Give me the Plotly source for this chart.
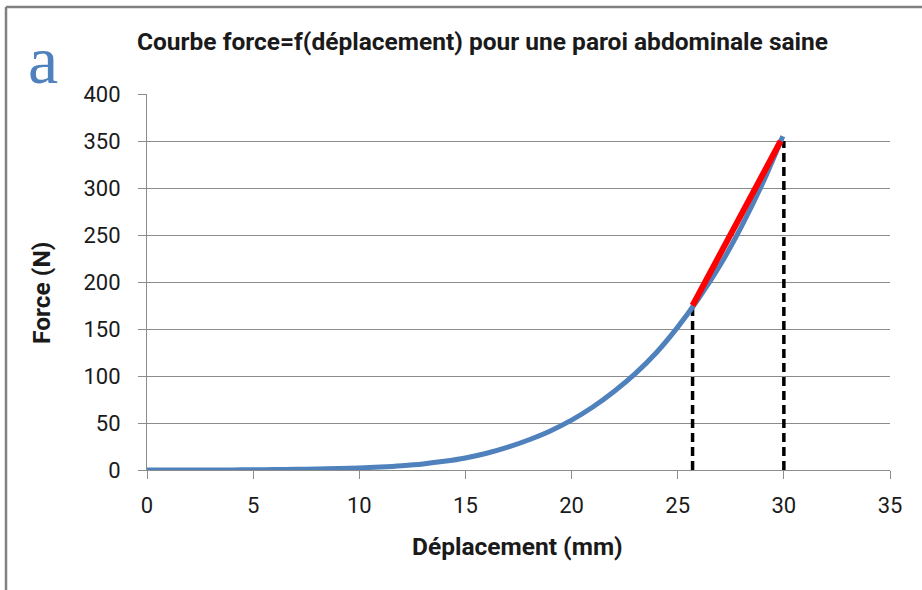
import plotly.graph_objects as go

# Force-displacement curve of a healthy abdominal wall
displacement_mm = [0, 1, 2, 3, 4, 5, 6, 7, 8, 9, 10, 11, 12, 13, 14, 15, 16, 17, 18, 19,
                   20, 21, 22, 23, 24, 25, 26, 27, 28, 29, 29.95]
force_n = [0, 0, 0.01, 0.05, 0.1, 0.2, 0.4, 0.7, 1.0, 1.5, 2.2, 3.2, 4.6, 6.5, 9.2, 12.8,
           17.8, 24.3, 32.2, 41.6, 53, 67, 83.5, 102.5, 125, 152, 183, 218, 259, 305, 355]

# Linear segment (stiffness) and its vertical markers
slope_x = [25.7, 29.85]
slope_y = [175, 350]
marker_x = [25.7, 30]
marker_top = [175, 350]

x_ticks = [0, 5, 10, 15, 20, 25, 30, 35]
y_ticks = [0, 50, 100, 150, 200, 250, 300, 350, 400]

title_text = "Courbe force=f(déplacement) pour une paroi abdominale saine"
x_title = "Déplacement (mm)"
y_title = "Force (N)"
panel_label = "a"

W, H = 922, 590
L, R, T, B = 147, 32, 94, 120
PW, PH = W - L - R, H - T - B


def px(xp):
    return (xp - L) / PW


def py(yp):
    return (H - B - yp) / PH


BLUE = "#4F81BD"
GRID = "#8C8C8C"
INK = "#1a1a1a"
FONT = "Roboto, 'Open Sans', sans-serif"

fig = go.Figure()

for xv, top in zip(marker_x, marker_top):
    fig.add_trace(go.Scatter(x=[xv, xv], y=[0, top], mode="lines",
                             line=dict(color="black", width=3.5, dash="9px,5px"),
                             hoverinfo="skip", showlegend=False))

fig.add_trace(go.Scatter(x=displacement_mm, y=force_n, mode="lines",
                         line=dict(color=BLUE, width=5, shape="spline", smoothing=1.0),
                         showlegend=False))

fig.add_trace(go.Scatter(x=slope_x, y=slope_y, mode="lines",
                         line=dict(color="#FF0000", width=6),
                         showlegend=False))

fig.update_layout(
    width=W, height=H,
    margin=dict(l=L, r=R, t=T, b=B),
    paper_bgcolor="white", plot_bgcolor="white",
    font=dict(family=FONT, size=22, color=INK),
    showlegend=False,
    xaxis=dict(range=[0, 35], tickvals=x_ticks, ticks="outside", ticklen=8,
               tickcolor=GRID, tickwidth=1, showline=True, linecolor=GRID, linewidth=1,
               showgrid=False, zeroline=False, ticklabelstandoff=8,
               tickfont=dict(family=FONT, size=22, color=INK)),
    yaxis=dict(range=[0, 400], tickvals=y_ticks, ticks="outside", ticklen=8,
               tickcolor=GRID, tickwidth=1, showline=True, linecolor=GRID, linewidth=1,
               showgrid=True, gridcolor=GRID, gridwidth=1, zeroline=False,
               ticklabelstandoff=13,
               tickfont=dict(family=FONT, size=22, color=INK)),
    shapes=[
        dict(type="line", xref="paper", yref="paper", x0=px(6), x1=px(W + 5), y0=py(7), y1=py(7),
             line=dict(color="#808080", width=2.5)),
        dict(type="line", xref="paper", yref="paper", x0=px(6), x1=px(6), y0=py(7), y1=py(H + 5),
             line=dict(color="#808080", width=2.5)),
    ],
    annotations=[
        dict(text="<b>" + title_text + "</b>", xref="paper", yref="paper",
             x=px(482.5), y=py(42), xanchor="center", yanchor="middle", showarrow=False,
             font=dict(family=FONT, size=24.5, color=INK)),
        dict(text="<b>" + x_title + "</b>", xref="paper", yref="paper",
             x=px(517.5), y=py(546), xanchor="center", yanchor="middle", showarrow=False,
             font=dict(family=FONT, size=24.5, color=INK)),
        dict(text="<b>" + y_title + "</b>", xref="paper", yref="paper", textangle=-90,
             x=px(41), y=py(293), xanchor="center", yanchor="middle", showarrow=False,
             font=dict(family=FONT, size=24.5, color=INK)),
        dict(text=panel_label, xref="paper", yref="paper",
             x=px(42.5), y=py(60), xanchor="center", yanchor="middle", showarrow=False,
             font=dict(family="'Liberation Serif', serif", size=68, color=BLUE)),
    ],
)

fig.write_html("out.html")
